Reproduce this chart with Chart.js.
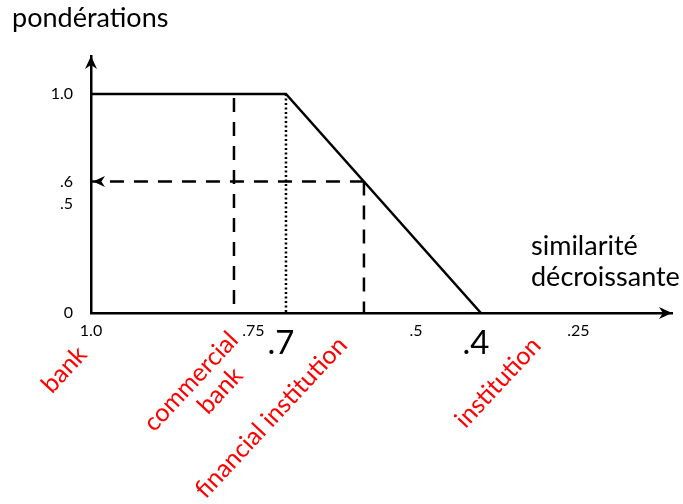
<!DOCTYPE html>
<html>
<head>
<meta charset="utf-8">
<script src="https://cdn.jsdelivr.net/npm/chart.js@4"></script>
<style>
  html, body { margin: 0; padding: 0; background: #fff; }
</style>
</head>
<body>
<canvas id="chart" width="683" height="504"></canvas>
<script>
// weight curve: full weight down to .7, then linear to 0 at .4
var curveX = [1.0, 0.7, 0.4];
var curveY = [1.0, 1.0, 0];
var commercialX = 0.78;
var financialX = 0.58;
var financialWeight = 0.6;

var xTicks = [1.0, 0.75, 0.5, 0.25];
var xTickLabels = ['1.0', '.75', '.5', '.25'];
var yTicks = [0, 0.5, 0.6, 1.0];
var yTickLabels = ['0', '.5', '.6', '1.0'];
var bigTicks = [0.7, 0.4];
var bigTickLabels = ['.7', '.4'];

var termLabels = ['bank', 'commercial', 'bank', 'financial institution', 'institution'];
var termX = [1.0, 0.78, 0.78, 0.58, 0.4];
// where each red label sits, relative to its x on the axis line
var termOffsets = [[-21, 62], [-37, 74], [-8, 83], [-87, 110], [23, 75]];

var font = 'Lato, "DejaVu Sans", sans-serif';

function pts(xs, ys) {
    return xs.map(function(x, i) { return { x: x, y: ys[i] }; });
}

function arrowHead(ctx, x, y, dir, len, half) {
    ctx.save();
    ctx.translate(x, y);
    ctx.rotate(dir);
    ctx.beginPath();
    ctx.moveTo(0, 0);
    ctx.lineTo(-len, -half);
    ctx.lineTo(-len * 0.7, 0);
    ctx.lineTo(-len, half);
    ctx.closePath();
    ctx.fill();
    ctx.restore();
}

var decorations = {
    id: 'decorations',
    afterDraw: function(chart) {
        var ctx = chart.ctx;
        var xs = chart.scales.x;
        var ys = chart.scales.y;
        var area = chart.chartArea;
        ctx.save();
        ctx.fillStyle = '#000';

        // axis arrows
        arrowHead(ctx, area.left, area.top, -Math.PI / 2, 13, 6);
        arrowHead(ctx, area.right, area.bottom, 0, 13, 6);
        // arrow on the .6 dashed line
        arrowHead(ctx, xs.getPixelForValue(1.0) + 2, ys.getPixelForValue(financialWeight), Math.PI, 12, 5.5);

        // axis titles
        ctx.font = '27px ' + font;
        ctx.textAlign = 'left';
        ctx.textBaseline = 'alphabetic';
        ctx.fillText('pondérations', 12, 27);
        ctx.fillText('similarité', 531, 255);
        ctx.fillText('décroissante', 531, 286);

        // big thresholds under the axis
        ctx.font = '33px ' + font;
        ctx.textAlign = 'center';
        bigTicks.forEach(function(v, i) {
            ctx.fillText(bigTickLabels[i], xs.getPixelForValue(v) - 5, 354);
        });

        // red terms
        ctx.fillStyle = '#ff0000';
        ctx.font = '25px ' + font;
        ctx.textAlign = 'center';
        termLabels.forEach(function(t, i) {
            var px = xs.getPixelForValue(termX[i]) + termOffsets[i][0];
            var py = area.bottom + termOffsets[i][1];
            ctx.save();
            ctx.translate(px, py);
            ctx.rotate(-47 * Math.PI / 180);
            ctx.fillText(t, 0, 0);
            ctx.restore();
        });
        ctx.restore();
    }
};

var dashed = [14, 10];

new Chart(document.getElementById('chart'), {
    type: 'line',
    data: {
        datasets: [{
            data: pts(curveX, curveY),
            borderColor: '#000',
            borderWidth: 2.5
        }, {
            data: pts([commercialX, commercialX], [1.0, 0]),
            borderColor: '#000',
            borderWidth: 2.5,
            borderDash: dashed,
            borderDashOffset: -4
        }, {
            data: pts([curveX[1], curveX[1]], [1.0, 0]),
            borderColor: '#000',
            borderWidth: 2.5,
            borderDash: [2, 2.5]
        }, {
            data: pts([financialX, financialX], [financialWeight, 0]),
            borderColor: '#000',
            borderWidth: 2.5,
            borderDash: dashed
        }, {
            data: pts([financialX, 1.0], [financialWeight, financialWeight]),
            borderColor: '#000',
            borderWidth: 2.5,
            borderDash: dashed
        }]
    },
    options: {
        responsive: false,
        animation: false,
        layout: {
            padding: { left: 0, right: 11, top: 56, bottom: 0 }
        },
        elements: {
            point: { radius: 0 },
            line: { tension: 0, fill: false, borderCapStyle: 'butt' }
        },
        scales: {
            x: {
                type: 'linear',
                reverse: true,
                min: 0.106,
                max: 1.0,
                bounds: 'data',
                afterBuildTicks: function(scale) {
                    scale.ticks = xTicks.map(function(v) { return { value: v }; });
                },
                afterFit: function(scale) { scale.height = 504 - 313; },
                grid: { display: false, drawTicks: false },
                border: { display: true, color: '#000', width: 2.5 },
                ticks: {
                    padding: 8,
                    color: '#000',
                    font: { family: font, size: 16 },
                    maxRotation: 0,
                    callback: function(v) {
                        var i = xTicks.indexOf(v);
                        return i < 0 ? '' : xTickLabels[i];
                    }
                }
            },
            y: {
                type: 'linear',
                min: 0,
                max: 1.1735,
                bounds: 'data',
                afterBuildTicks: function(scale) {
                    scale.ticks = yTicks.map(function(v) { return { value: v }; });
                },
                afterFit: function(scale) { scale.width = 91; },
                grid: { display: false, drawTicks: false },
                border: { display: true, color: '#000', width: 2.5 },
                ticks: {
                    padding: 18,
                    color: '#000',
                    font: { family: font, size: 16 },
                    callback: function(v) {
                        var i = yTicks.indexOf(v);
                        return i < 0 ? '' : yTickLabels[i];
                    }
                }
            }
        },
        plugins: {
            legend: { display: false },
            tooltip: { enabled: false }
        }
    },
    plugins: [decorations]
});
</script>
</body>
</html>
